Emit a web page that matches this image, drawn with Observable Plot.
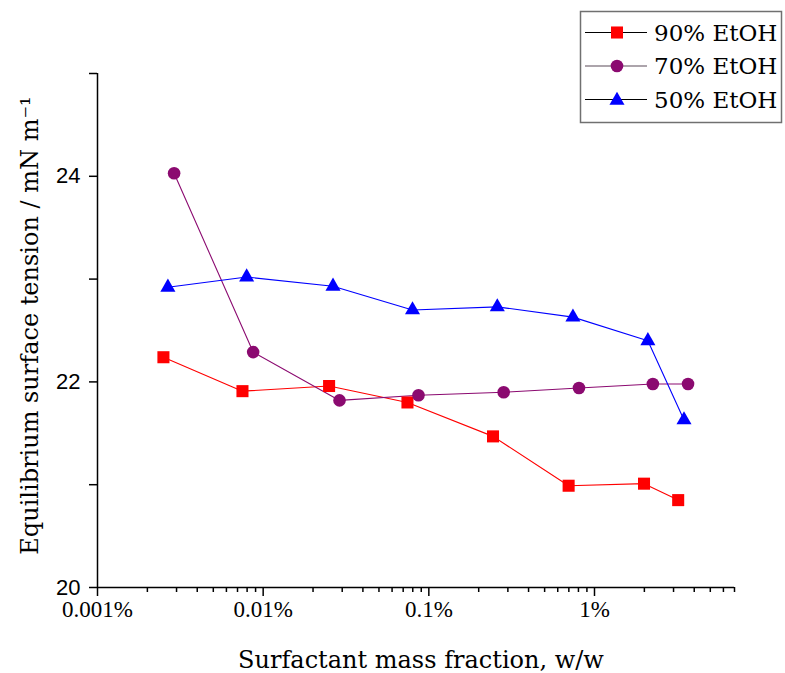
<!DOCTYPE html>
<html>
<head>
<meta charset="utf-8">
<script src="https://cdn.jsdelivr.net/npm/d3@7"></script>
<script src="https://cdn.jsdelivr.net/npm/@observablehq/plot@0.6"></script>
<style>
  body { margin: 0; background: #fff; }
  #chart { position: relative; width: 785px; height: 673px; }
</style>
</head>
<body>
<div id="chart"></div>
<script>
// ---- data (surfactant mass fraction in %, surface tension in mN/m) ----
const seriesNames = ["90% EtOH", "70% EtOH", "50% EtOH"];
const x90 = [0.0025, 0.0075, 0.025, 0.0743, 0.244, 0.698, 1.99, 3.2];
const y90 = [22.24, 21.91, 21.96, 21.80, 21.47, 20.99, 21.01, 20.85];
const x70 = [0.0029, 0.0087, 0.0289, 0.0866, 0.283, 0.806, 2.25, 3.67];
const y70 = [24.03, 22.29, 21.82, 21.87, 21.90, 21.94, 21.98, 21.98];
const x50 = [0.00266, 0.00795, 0.0264, 0.0797, 0.259, 0.741, 2.10, 3.47];
const y50 = [22.92, 23.02, 22.93, 22.70, 22.73, 22.63, 22.40, 21.63];
const seriesColors = ["#ff0000", "#8b0a70", "#0000ff"];
const seriesSymbols = ["square", "circle", "triangle"];
const legendLineColors = ["#000000", "#5a4a58", "#000000"];

// ---- axis ticks ----
const xMajorTicks = [0.001, 0.01, 0.1, 1];
const xMajorLabels = ["0.001%", "0.01%", "0.1%", "1%"];
const xMinorTicks = [0.002, 0.003, 0.004, 0.005, 0.006, 0.007, 0.008, 0.009,
                     0.02, 0.03, 0.04, 0.05, 0.06, 0.07, 0.08, 0.09,
                     0.2, 0.3, 0.4, 0.5, 0.6, 0.7, 0.8, 0.9,
                     2, 3, 4, 5, 6, 7];
const yMajorTicks = [20, 22, 24];
const yMinorTicks = [21, 23, 25];
const xTitle = "Surfactant mass fraction, w/w";
const yTitle = "Equilibrium surface tension / mN m\u207B\u00B9";

const toRows = (xs, ys, name) => xs.map((x, i) => ({x, y: ys[i], name}));
const rows = [toRows(x90, y90, seriesNames[0]), toRows(x70, y70, seriesNames[1]), toRows(x50, y50, seriesNames[2])];
const dotR = [6.8, 6.3, 5.6];

const serif = "DejaVu Serif";
const marks = [
  Plot.axisX(xMajorTicks, {tickSize: 9, strokeWidth: 1.5, fill: "none", label: null}),
  Plot.axisX(xMinorTicks, {tickSize: 5, strokeWidth: 1.5, fill: "none", label: null}),
  Plot.axisY(yMajorTicks.concat(yMinorTicks), {tickSize: 8, strokeWidth: 1.5, fill: "none", label: null}),
  Plot.text(xMajorTicks, {x: d => d, text: (d, i) => xMajorLabels[i], frameAnchor: "bottom", dy: 13,
    lineAnchor: "top", textAnchor: "middle", fontFamily: "Liberation Serif", fontSize: 23, fill: "black"}),
  Plot.text(yMajorTicks, {y: d => d, text: d => String(d), frameAnchor: "left", dx: -17,
    lineAnchor: "middle", textAnchor: "end", fontFamily: "Liberation Sans", fontSize: 22, fill: "black"}),
  Plot.ruleY([20], {stroke: "black", strokeWidth: 1.5}),
  Plot.ruleX([0.001], {stroke: "black", strokeWidth: 1.5}),
  Plot.text([xTitle], {text: d => d, frameAnchor: "bottom", dy: 73, dx: 5, lineAnchor: "middle",
    textAnchor: "middle", fontFamily: serif, fontSize: 24, fill: "black"}),
  Plot.text([yTitle], {text: d => d, frameAnchor: "left", dx: -67, dy: -5, rotate: -90, lineAnchor: "middle",
    textAnchor: "middle", fontFamily: serif, fontSize: 24, fill: "black"})
];
rows.forEach((data, i) => {
  marks.push(Plot.line(data, {x: "x", y: "y", stroke: seriesColors[i], strokeWidth: 1.1}));
});
rows.forEach((data, i) => {
  marks.push(Plot.dot(data, {x: "x", y: "y", symbol: seriesSymbols[i], fill: seriesColors[i], stroke: "none", r: dotR[i]}));
});

const svgEl = Plot.plot({
  width: 785,
  height: 673,
  marginLeft: 97,
  marginRight: 51,
  marginTop: 73,
  marginBottom: 86,
  x: {type: "log", domain: [0.001, 7], label: null},
  y: {domain: [20, 25], label: null},
  style: {background: "white", color: "black", overflow: "visible"},
  marks
});
document.getElementById("chart").appendChild(svgEl);

// ---- legend (boxed, top right) ----
const svg = d3.select(svgEl);
const lg = svg.append("g").attr("class", "legend");
lg.append("rect").attr("x", 580.5).attr("y", 11.5).attr("width", 201).attr("height", 111)
  .attr("fill", "white").attr("stroke", "#707070").attr("stroke-width", 1.5);
const rowY = [32.5, 66, 99.5];
const symMap = {square: d3.symbolSquare, circle: d3.symbolCircle, triangle: d3.symbolTriangle};
seriesNames.forEach((name, i) => {
  const g = lg.append("g").attr("transform", `translate(0,${rowY[i]})`);
  g.append("line").attr("x1", 585).attr("x2", 647).attr("y1", 0).attr("y2", 0)
    .attr("stroke", legendLineColors[i]).attr("stroke-width", 1.1);
  g.append("path").attr("transform", `translate(617,${i === 2 ? 1 : 0})`)
    .attr("d", d3.symbol(symMap[seriesSymbols[i]], Math.PI * dotR[i] * dotR[i])())
    .attr("fill", seriesColors[i]);
  g.append("text").attr("x", 654).attr("y", 8).text(name)
    .attr("text-anchor", "start")
    .attr("font-family", serif).attr("font-size", 23).attr("fill", "black");
});
</script>
</body>
</html>
